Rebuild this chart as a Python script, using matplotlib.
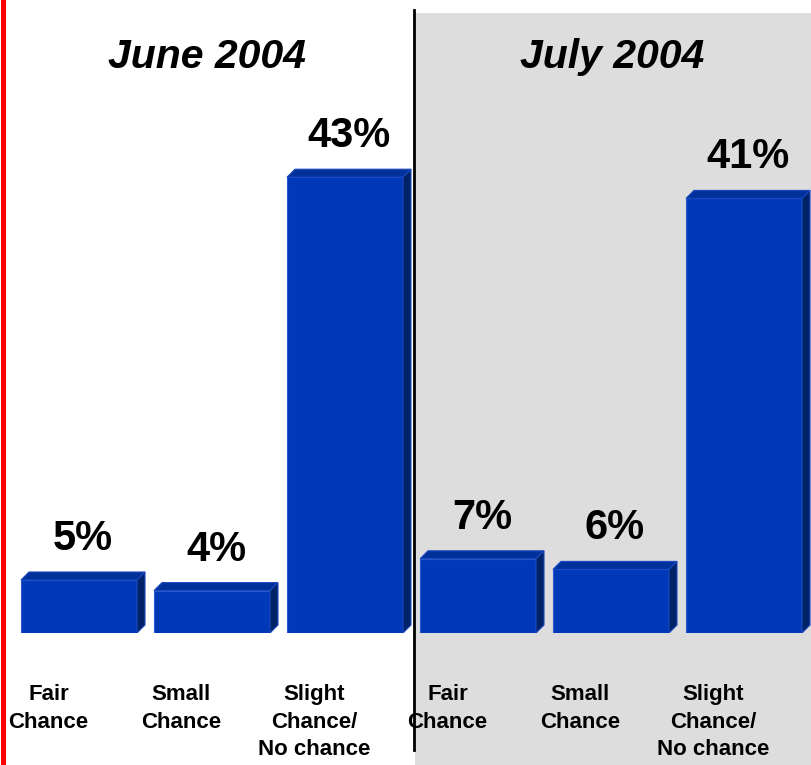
import matplotlib
matplotlib.use("Agg")
import matplotlib.pyplot as plt
from matplotlib.patches import Polygon, Rectangle
from matplotlib.lines import Line2D

plt.rcParams['font.family'] = ['Liberation Sans', 'DejaVu Sans']

# data
periods = ["June 2004", "July 2004"]
categories = ["Fair\nChance", "Small\nChance", "Slight\nChance/\nNo chance"]
june_values = [5, 4, 43]
july_values = [7, 6, 41]

values = june_values + july_values
labels = categories + categories

W, H = 811, 765
fig = plt.figure(figsize=(W / 100, H / 100), dpi=100)
fig.patch.set_facecolor("white")

# grey panel for July, divider line, red left edge
fig.add_artist(Rectangle((415 / W, 0), 1 - 415 / W, 1 - 13 / H,
                         transform=fig.transFigure, facecolor="#dddddd",
                         edgecolor="none", zorder=0))
fig.add_artist(Line2D([414 / W, 414 / W], [1 - 750 / H, 1 - 10 / H],
                      transform=fig.transFigure, color="black", lw=2, zorder=1))
fig.add_artist(Line2D([2.5 / W, 2.5 / W], [0, 1], transform=fig.transFigure,
                      color="#ff0000", lw=3.6, zorder=1))

# axes: y=0 at pixel 633, 10.6 px per percent
ymax = 50
px_per = 10.6
bottom = (H - 633) / H
height = ymax * px_per / H
left = 12.5 / W
width = 798 / W
ax = fig.add_axes([left, bottom, width, height])
ax.set_xlim(-0.5, 5.5)
ax.set_ylim(0, ymax)
ax.axis("off")
ax.patch.set_visible(False)

bar_w = 116 / 133
dx = 8 / 133          # depth in data units (x)
dy = 8 / px_per       # depth in data units (y)
front = "#0039b8"
top_c = "#00309a"
side_c = "#002266"

xs = range(len(values))
ax.bar(xs, values, width=bar_w, color=front, edgecolor="#2a5ad0",
       linewidth=0.8, zorder=3)
for x, v in zip(xs, values):
    x0, x1 = x - bar_w / 2, x + bar_w / 2
    ax.add_patch(Polygon([(x0, v), (x1, v), (x1 + dx, v + dy), (x0 + dx, v + dy)],
                         closed=True, facecolor=top_c, edgecolor="#1a48c0",
                         linewidth=0.8, zorder=3))
    ax.add_patch(Polygon([(x1, 0), (x1 + dx, dy), (x1 + dx, v + dy), (x1, v)],
                         closed=True, facecolor=side_c, edgecolor="#1a48c0",
                         linewidth=0.8, zorder=3))
    ax.text(x + dx / 2, v + 41 / px_per, f"{v}%", ha="center", va="center",
            fontsize=30, fontweight="bold", zorder=4)
    ax.text(x - 0.23, -51 / px_per, labels[x],
            ha="center", va="top", fontsize=16, fontweight="bold",
            linespacing=1.42, clip_on=False, zorder=4)

fig.text(207 / W, 1 - 57 / H, periods[0], ha="center", va="center",
         fontsize=29.5, fontweight="bold", fontstyle="italic")
fig.text(612 / W, 1 - 57 / H, periods[1], ha="center", va="center",
         fontsize=29.5, fontweight="bold", fontstyle="italic")

fig.savefig("out.png", dpi=100)
